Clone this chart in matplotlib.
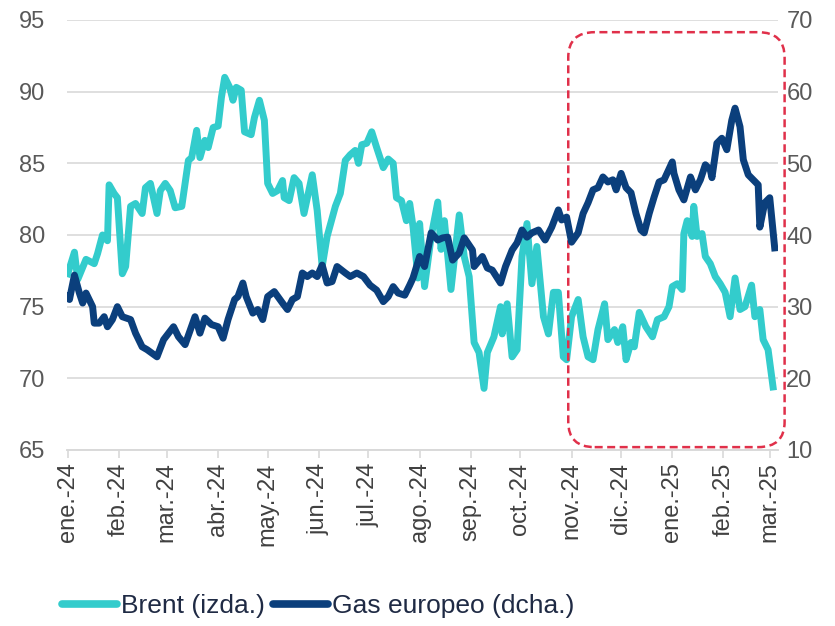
import numpy as np
import pandas as pd
import matplotlib
matplotlib.use("Agg")
import matplotlib.pyplot as plt
import matplotlib.dates as mdates
from matplotlib.patches import FancyBboxPatch
from matplotlib.lines import Line2D

plt.rcParams['font.family'] = ['Liberation Sans', 'DejaVu Sans']

# days counted from 1 Jan 2024
brent_day = [0, 4, 6, 11, 16, 18, 21, 24, 25, 28, 30, 33, 35, 38, 41, 45, 47, 50, 54, 56,
             59, 62, 65, 69, 73, 75, 78, 80, 83, 85, 88, 91, 93, 95, 98, 100, 102, 105, 107, 111,
             113, 116, 119, 121, 124, 127, 130, 131, 134, 137, 140, 143, 148, 151, 154, 157, 162, 165, 168, 171,
             174, 176, 178, 181, 184, 187, 191, 194, 197, 199, 202, 205, 207, 209, 212, 213, 216, 220, 224, 226,
             228, 232, 234, 237, 240, 243, 246, 249, 252, 254, 258, 262, 263, 266, 269, 272, 275, 278, 281, 284,
             288, 291, 294, 297, 300, 302, 305, 309, 312, 315, 318, 321, 325, 327, 331, 333, 336, 338, 341, 343,
             346, 350, 354, 357, 361, 364, 366, 369, 372, 373, 375, 378, 379, 381, 384, 386, 389, 392, 395, 398,
             401, 404, 407, 410, 414, 416, 419, 421, 424, 427]
brent = [77.3, 78.8, 76.9, 78.3, 78.0, 78.7, 80.0, 79.6, 83.5, 82.9, 82.6, 77.3, 77.8, 82.0, 82.2, 81.5, 83.3, 83.6, 81.5, 83.1,
         83.6, 83.1, 81.9, 82.0, 85.2, 85.4, 87.3, 85.4, 86.6, 86.1, 87.5, 87.6, 89.6, 91.0, 90.3, 89.4, 90.3, 90.1, 87.2, 87.0,
         88.2, 89.4, 88.0, 83.6, 82.9, 83.1, 83.8, 82.6, 82.4, 84.0, 83.6, 81.5, 84.2, 81.7, 77.8, 79.9, 82.0, 82.9, 85.2, 85.6,
         85.9, 85.0, 86.3, 86.4, 87.2, 86.1, 84.7, 85.3, 85.0, 82.6, 82.4, 81.0, 82.2, 80.6, 77.0, 80.8, 76.4, 79.9, 82.3, 79.0,
         81.0, 76.2, 78.3, 81.4, 78.5, 77.1, 72.5, 71.8, 69.3, 71.8, 72.9, 75.0, 73.1, 75.2, 71.5, 72.0, 78.5, 80.8, 76.6, 79.2,
         74.3, 73.1, 76.0, 76.0, 71.5, 71.3, 74.3, 75.5, 72.9, 71.5, 71.3, 73.4, 75.2, 72.7, 73.4, 72.5, 73.6, 71.3, 72.5, 72.2,
         74.6, 73.6, 72.9, 74.1, 74.3, 75.0, 76.4, 76.6, 76.2, 80.1, 81.0, 79.9, 82.0, 79.9, 80.1, 78.5, 78.0, 77.1, 76.6, 76.0,
         74.3, 77.0, 74.8, 75.0, 76.5, 74.3, 74.8, 72.7, 72.0, 69.4]

gas_day = [0, 1, 4, 7, 9, 11, 15, 16, 19, 22, 24, 27, 30, 33, 38, 41, 45, 48, 54, 58,
           64, 67, 71, 77, 80, 83, 87, 91, 94, 97, 101, 103, 106, 108, 112, 115, 118, 121, 125, 130,
           133, 136, 139, 142, 145, 148, 151, 154, 157, 160, 163, 168, 171, 175, 179, 183, 187, 191, 194, 197,
           200, 204, 207, 209, 213, 216, 220, 224, 227, 230, 233, 237, 240, 245, 246, 251, 254, 257, 262, 265,
           269, 272, 275, 278, 281, 285, 289, 293, 297, 299, 302, 305, 309, 312, 315, 318, 321, 324, 327, 330,
           332, 335, 338, 341, 344, 347, 349, 352, 355, 358, 361, 366, 367, 370, 373, 377, 380, 383, 386, 389,
           390, 393, 396, 399, 402, 404, 407, 409, 412, 415, 418, 419, 422, 425, 428]
gas = [31.5, 31.0, 34.4, 31.9, 30.5, 31.9, 30.0, 27.7, 27.7, 28.6, 27.2, 28.2, 30.0, 28.6, 28.2, 26.3, 24.4, 24.0, 23.0, 25.4,
       27.2, 25.8, 24.7, 28.6, 26.3, 28.4, 27.5, 27.2, 25.6, 28.2, 31.0, 31.4, 33.3, 31.4, 29.1, 29.6, 28.2, 31.4, 32.1, 30.5,
       29.6, 31.0, 31.4, 34.7, 34.2, 34.7, 34.2, 35.8, 33.3, 33.5, 35.6, 34.7, 34.2, 34.7, 34.2, 33.0, 32.3, 30.7, 31.4, 32.8,
       31.9, 31.6, 33.0, 34.0, 37.0, 35.6, 40.3, 39.3, 39.6, 39.7, 36.5, 37.5, 39.6, 37.9, 35.6, 37.0, 35.4, 35.1, 33.3, 35.6,
       37.9, 38.9, 40.7, 39.7, 40.3, 40.7, 39.3, 41.1, 43.5, 42.1, 42.5, 39.0, 40.3, 43.0, 44.5, 46.3, 46.6, 48.1, 47.4, 47.7,
       46.3, 48.6, 46.6, 45.9, 43.0, 40.7, 40.3, 43.0, 45.3, 47.4, 47.7, 50.2, 48.6, 46.3, 44.9, 48.1, 46.3, 47.7, 49.8, 49.1,
       48.0, 52.8, 53.5, 51.9, 56.0, 57.7, 55.1, 50.5, 48.4, 47.7, 47.0, 41.1, 44.5, 45.2, 38.2]

month_labels = ['ene.-24', 'feb.-24', 'mar.-24', 'abr.-24', 'may.-24', 'jun.-24', 'jul.-24', 'ago.-24',
                'sep.-24', 'oct.-24', 'nov.-24', 'dic.-24', 'ene.-25', 'feb.-25', 'mar.-25']

brent_color = '#33cccc'
gas_color = '#0b3f7c'

base = mdates.date2num(np.datetime64('2024-01-01'))
month_pos = mdates.date2num(pd.date_range('2024-01-01', '2025-03-01', freq='MS').to_numpy())

fig = plt.figure(figsize=(8.35, 6.26), dpi=100)
ax = fig.add_axes([67 / 835, 1 - 450 / 626, 711 / 835, 430 / 626])
ax2 = ax.twinx()

ax.plot(base + np.array(brent_day), brent, color=brent_color, lw=5, solid_joinstyle='round')
ax2.plot(base + np.array(gas_day), gas, color=gas_color, lw=5, solid_joinstyle='round')

ax.set_xlim(base - 0.5, base + 430)
ax.set_ylim(65, 95)
ax2.set_ylim(10, 70)
ax.set_yticks(range(65, 96, 5))
ax2.set_yticks(range(10, 71, 10))
ax.set_xticks(month_pos)
ax.set_xticklabels(month_labels, rotation=90)

ax.grid(axis='y', color='#d9d9d9', lw=1.2)
ax.set_axisbelow(True)
for a in (ax, ax2):
    for s in ['top', 'left', 'right']:
        a.spines[s].set_visible(False)
    a.spines['bottom'].set_color('#d9d9d9')
    a.spines['bottom'].set_linewidth(1.2)

ax.tick_params(axis='y', length=0, pad=16, labelsize=17, labelcolor='#595959')
ax2.tick_params(axis='y', length=0, pad=6, labelsize=17, labelcolor='#595959')
ax.tick_params(axis='x', length=6, width=1.2, color='#d9d9d9', pad=3, labelsize=17, labelcolor='#404040')

# highlighted period
box = FancyBboxPatch((base + 303, 65.2), 131, 28.95,
                     boxstyle='round,pad=0,rounding_size=16', mutation_aspect=0.11,
                     transform=ax.transData, clip_on=False, fill=False,
                     ec='#e0304a', lw=1.8, ls=(0, (3.2, 1.8)), zorder=5)
ax.add_patch(box)

handles = [Line2D([], [], color=brent_color, lw=5.5, solid_capstyle='round'),
           Line2D([], [], color=gas_color, lw=5.5, solid_capstyle='round')]
fig.legend(handles, ['Brent (izda.)', 'Gas europeo (dcha.)'], loc='center left',
           bbox_to_anchor=(38 / 835, 1 - 606 / 626), ncol=2, frameon=False,
           fontsize=19, handlelength=2.1, handletextpad=0.15, columnspacing=0.3,
           labelcolor='#1f2a44')

fig.savefig('out.png', dpi=100)
